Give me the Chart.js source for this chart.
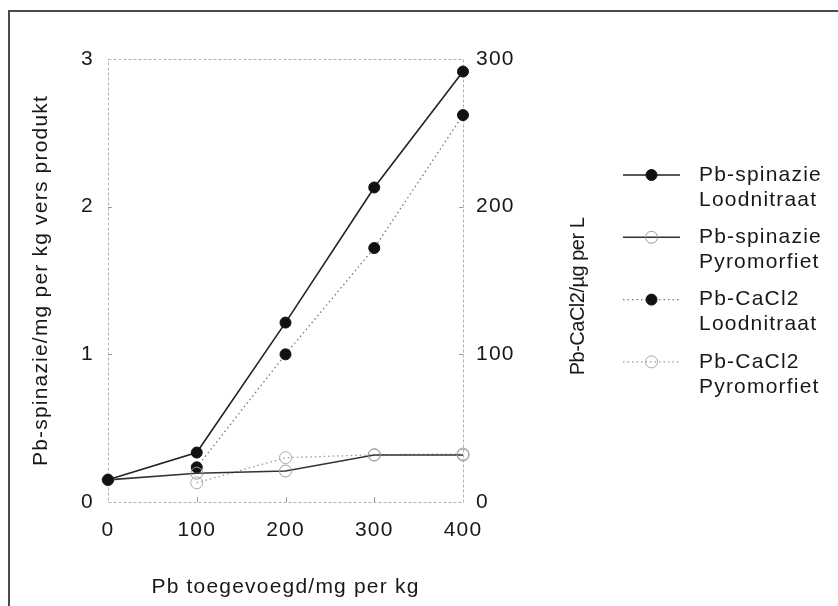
<!DOCTYPE html>
<html>
<head>
<meta charset="utf-8">
<script src="https://cdn.jsdelivr.net/npm/chart.js@4"></script>
<style>
  html, body { margin: 0; padding: 0; background: #fff; }
  #wrap { position: relative; width: 838px; height: 606px; }
  #frame { position: absolute; left: 8px; top: 10px; right: 0; bottom: 0;
           border-left: 2px solid #4a4a4a; border-top: 2px solid #4a4a4a; pointer-events: none; }
</style>
</head>
<body>
<div id="wrap">
  <canvas id="c" width="838" height="606"></canvas>
  <div id="frame"></div>
</div>
<script>
// ---- data ----
const xValues = [0, 100, 200, 300, 400];
const spinazieLoodnitraat = [0.15, 0.335, 1.215, 2.13, 2.915];
const spinaziePyromorfiet = [0.15, 0.195, 0.21, 0.318, 0.318];
const cacl2Loodnitraat = [null, 23.5, 100, 172, 262];
const cacl2Pyromorfiet = [null, 13, 30, 32, 32.5];
const xTicks = [0, 100, 200, 300, 400];
const yLeftTicks = [0, 1, 2, 3];
const yRightTicks = [0, 100, 200, 300];
const legendLabels = [
  ['Pb-spinazie', 'Loodnitraat'],
  ['Pb-spinazie', 'Pyromorfiet'],
  ['Pb-CaCl2', 'Loodnitraat'],
  ['Pb-CaCl2', 'Pyromorfiet']
];
const xTitle = 'Pb toegevoegd/mg per kg';
const yLeftTitle = 'Pb-spinazie/mg per kg vers produkt';
const yRightTitle = 'Pb-CaCl2/\u00b5g per L';

const pts = (ys) => xValues.map((x, i) => ({ x: x, y: ys[i] }));
const FONT = '"Liberation Sans", Arial, Helvetica, sans-serif';
const FS = 21;
const SPACING = '1.2px';
const TXT = '#181818';

const spacing = {
  id: 'spacing',
  beforeLayout(chart) { chart.ctx.letterSpacing = SPACING; },
  beforeDraw(chart) { chart.ctx.letterSpacing = SPACING; }
};

const frameAndTicks = {
  id: 'frameAndTicks',
  beforeDatasetsDraw(chart) {
    const { ctx, chartArea: a, scales } = chart;
    ctx.save();
    ctx.strokeStyle = '#b5adb5';
    ctx.lineWidth = 1;
    ctx.setLineDash([3, 2]);
    ctx.strokeRect(a.left + 0.5, a.top + 0.5, a.right - a.left, a.bottom - a.top);
    ctx.setLineDash([]);
    ctx.strokeStyle = '#999';
    scales.x.ticks.forEach(t => {
      if (t.value === 0 || t.value === 400) return;
      const px = Math.round(scales.x.getPixelForValue(t.value)) + 0.5;
      ctx.beginPath(); ctx.moveTo(px, a.bottom); ctx.lineTo(px, a.bottom - 5); ctx.stroke();
    });
    scales.y.ticks.forEach(t => {
      if (t.value === 0 || t.value === 3) return;
      const py = Math.round(scales.y.getPixelForValue(t.value)) + 0.5;
      ctx.beginPath(); ctx.moveTo(a.left, py); ctx.lineTo(a.left + 4, py); ctx.stroke();
    });
    scales.y2.ticks.forEach(t => {
      if (t.value === 0 || t.value === 300) return;
      const py = Math.round(scales.y2.getPixelForValue(t.value)) + 0.5;
      ctx.beginPath(); ctx.moveTo(a.right, py); ctx.lineTo(a.right - 4, py); ctx.stroke();
    });
    ctx.restore();
  },
  afterDraw(chart) {
    const { ctx, chartArea: a } = chart;
    ctx.save();
    ctx.letterSpacing = '-0.5px';
    // right axis title, reading bottom-to-top
    ctx.fillStyle = TXT;
    ctx.font = '20px ' + FONT;
    ctx.textAlign = 'center';
    ctx.textBaseline = 'middle';
    ctx.translate(578, (a.top + a.bottom) / 2 + 16);
    ctx.rotate(-Math.PI / 2);
    ctx.fillText(yRightTitle, 0, 0);
    ctx.restore();

    // legend
    ctx.save();
    ctx.letterSpacing = SPACING;
    const x0 = 623, x1 = 680, tx = 699;
    chart.data.datasets.forEach((ds, i) => {
      const y = 175 + i * 62.3;
      ctx.strokeStyle = ds.borderColor;
      ctx.lineWidth = ds.borderWidth;
      ctx.setLineDash(ds.borderDash || []);
      ctx.beginPath(); ctx.moveTo(x0, y); ctx.lineTo(x1, y); ctx.stroke();
      ctx.setLineDash([]);
      const mx = (x0 + x1) / 2;
      ctx.beginPath(); ctx.arc(mx, y, ds.pointRadius, 0, Math.PI * 2);
      ctx.fillStyle = ds.pointBackgroundColor;
      ctx.fill();
      ctx.lineWidth = ds.pointBorderWidth;
      ctx.strokeStyle = ds.pointBorderColor;
      ctx.stroke();
      ctx.fillStyle = TXT;
      ctx.font = FS + 'px ' + FONT;
      ctx.textAlign = 'left';
      ctx.textBaseline = 'middle';
      legendLabels[i].forEach((line, j) => ctx.fillText(line, tx, y + j * 25));
    });
    ctx.restore();
  }
};

new Chart(document.getElementById('c'), {
  type: 'line',
  data: {
    datasets: [
      {
        label: legendLabels[0].join(' '), data: pts(spinazieLoodnitraat), yAxisID: 'y', clip: false,
        borderColor: '#222', borderWidth: 1.6, pointRadius: 5.5,
        pointBackgroundColor: '#111', pointBorderColor: '#111', pointBorderWidth: 1
      },
      {
        label: legendLabels[1].join(' '), data: pts(spinaziePyromorfiet), yAxisID: 'y', clip: false,
        borderColor: '#333', borderWidth: 1.6, pointRadius: 6,
        pointBackgroundColor: 'rgba(255,255,255,0)', pointBorderColor: '#999', pointBorderWidth: 1
      },
      {
        label: legendLabels[2].join(' '), data: pts(cacl2Loodnitraat), yAxisID: 'y2', clip: false,
        borderColor: '#777', borderWidth: 1.3, borderDash: [1.5, 3], pointRadius: 5.5,
        pointBackgroundColor: '#111', pointBorderColor: '#111', pointBorderWidth: 1, spanGaps: false
      },
      {
        label: legendLabels[3].join(' '), data: pts(cacl2Pyromorfiet), yAxisID: 'y2', clip: false,
        borderColor: '#999', borderWidth: 1.3, borderDash: [1.5, 3], pointRadius: 6,
        pointBackgroundColor: 'rgba(255,255,255,0)', pointBorderColor: '#aaa', pointBorderWidth: 1, spanGaps: false
      }
    ]
  },
  options: {
    responsive: false,
    animation: false,
    layout: { padding: { left: 29, right: 247, top: 59, bottom: 6 } },
    plugins: { legend: { display: false }, tooltip: { enabled: false } },
    elements: { line: { tension: 0 } },
    scales: {
      x: {
        type: 'linear', min: 0, max: 400,
        afterBuildTicks: (s) => { s.ticks = xTicks.map(v => ({ value: v })); },
        afterFit: (s) => { s.height = 98; },
        grid: { display: false, drawTicks: false }, border: { display: false },
        ticks: { color: TXT, font: { family: FONT, size: FS }, padding: 16, maxRotation: 0 },
        title: { display: true, text: xTitle, color: TXT, font: { family: FONT, size: FS }, padding: 0 }
      },
      y: {
        position: 'left', min: 0, max: 3,
        afterBuildTicks: (s) => { s.ticks = yLeftTicks.map(v => ({ value: v })); },
        afterFit: (s) => { s.width = 79; },
        grid: { display: false, drawTicks: false }, border: { display: false },
        ticks: { color: TXT, font: { family: FONT, size: FS }, padding: 14 },
        title: { display: true, text: yLeftTitle, color: TXT, font: { family: FONT, size: FS }, padding: 0 }
      },
      y2: {
        position: 'right', min: 0, max: 300,
        afterBuildTicks: (s) => { s.ticks = yRightTicks.map(v => ({ value: v })); },
        afterFit: (s) => { s.width = 128; },
        grid: { display: false, drawTicks: false }, border: { display: false },
        ticks: { color: TXT, font: { family: FONT, size: FS }, padding: 13 }
      }
    }
  },
  plugins: [spacing, frameAndTicks]
});
</script>
</body>
</html>
